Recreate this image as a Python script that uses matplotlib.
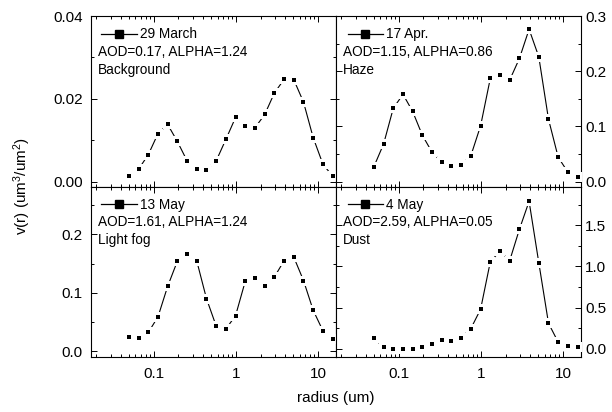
import numpy as np
import matplotlib
matplotlib.use("Agg")
import matplotlib.pyplot as plt
from matplotlib.lines import Line2D
from matplotlib.ticker import FixedLocator, FormatStrFormatter, LogLocator, NullFormatter

plt.rcParams['font.family'] = ['Liberation Sans', 'DejaVu Sans']
plt.rcParams['mathtext.default'] = 'regular'

radius = [0.05, 0.0656, 0.0861, 0.113, 0.148, 0.194, 0.255, 0.335, 0.439, 0.576, 0.756,
          0.992, 1.302, 1.708, 2.241, 2.940, 3.857, 5.061, 6.641, 8.713, 11.432, 15.0]

v_29march = [0.0014, 0.0030, 0.0065, 0.0116, 0.0138, 0.0097, 0.0050, 0.0030, 0.0029, 0.0050, 0.0102,
             0.0155, 0.0133, 0.0130, 0.0162, 0.0214, 0.0247, 0.0246, 0.0192, 0.0106, 0.0042, 0.0013]
v_17apr = [0.027, 0.068, 0.133, 0.158, 0.127, 0.084, 0.053, 0.035, 0.029, 0.030, 0.047,
           0.101, 0.187, 0.193, 0.184, 0.223, 0.276, 0.226, 0.113, 0.044, 0.017, 0.009]
v_13may = [0.025, 0.023, 0.032, 0.059, 0.111, 0.154, 0.166, 0.154, 0.090, 0.043, 0.038,
           0.061, 0.120, 0.125, 0.112, 0.127, 0.155, 0.161, 0.121, 0.070, 0.035, 0.020]
v_4may = [0.129, 0.016, 0.0, 0.0, 0.0, 0.016, 0.056, 0.105, 0.100, 0.133, 0.246,
          0.480, 1.056, 1.185, 1.070, 1.450, 1.790, 1.045, 0.310, 0.080, 0.028, 0.016]

dates = ["29 March", "17 Apr.", "13 May", "4 May"]
aod_text = ["AOD=0.17, ALPHA=1.24", "AOD=1.15, ALPHA=0.86",
            "AOD=1.61, ALPHA=1.24", "AOD=2.59, ALPHA=0.05"]
types = ["Background", "Haze", "Light fog", "Dust"]
series = [v_29march, v_17apr, v_13may, v_4may]

ylims = [(-0.0012, 0.04), (-0.009, 0.3), (-0.01, 0.282), (-0.1, 1.97)]
ymajor = [[0.0, 0.02, 0.04], [0.0, 0.1, 0.2, 0.3], [0.0, 0.1, 0.2], [0.0, 0.5, 1.0, 1.5]]
yminor = [[0.01, 0.03], [0.05, 0.15, 0.25], [0.05, 0.15, 0.25], [0.25, 0.75, 1.25, 1.75]]
yfmt = ['%.2f', '%.1f', '%.1f', '%.1f']

fig, axes = plt.subplots(2, 2, figsize=(6.12, 4.12), dpi=100, sharex=True)
fig.subplots_adjust(left=91/612, right=581/612, top=1-16/412, bottom=1-357/412,
                    wspace=0, hspace=0)

for i, ax in enumerate(axes.flat):
    y = series[i]
    ax.plot(radius, y, '-', color='black', lw=0.8, zorder=2)
    ax.plot(radius, y, 's', ms=7.0, mfc='white', mec='white', mew=0, zorder=3)
    ax.plot(radius, y, 's', ms=3.0, mfc='black', mec='black', mew=0, zorder=4)
    ax.set_xscale('log')
    ax.set_xlim(0.0173, 16.5)
    ax.set_ylim(*ylims[i])
    ax.yaxis.set_major_locator(FixedLocator(ymajor[i]))
    ax.yaxis.set_minor_locator(FixedLocator(yminor[i]))
    ax.yaxis.set_major_formatter(FormatStrFormatter(yfmt[i]))
    ax.xaxis.set_major_locator(FixedLocator([0.1, 1, 10]))
    ax.xaxis.set_major_formatter(FormatStrFormatter('%g'))
    ax.xaxis.set_minor_locator(LogLocator(base=10, subs=np.arange(2, 10)))
    ax.xaxis.set_minor_formatter(NullFormatter())
    ax.tick_params(which='both', direction='in', top=True, bottom=True, left=True, right=True,
                   width=0.7, labelsize=11, colors='black')
    ax.tick_params(which='major', length=4)
    ax.tick_params(which='minor', length=2)
    ax.tick_params(axis='x', pad=7)
    if i % 2 == 1:
        ax.tick_params(axis='y', labelleft=False, labelright=True, pad=3)
    else:
        ax.tick_params(axis='y', pad=6)
    if i < 2:
        ax.tick_params(axis='x', labelbottom=False)
    for sp in ax.spines.values():
        sp.set_linewidth(0.8)

    handle = Line2D([], [], color='black', lw=0.9, marker='s', ms=5.5)
    ax.legend([handle], [dates[i]], loc='upper left', frameon=False, fontsize=9.8,
              handlelength=2.6, handletextpad=0.25, borderaxespad=0.0,
              bbox_to_anchor=(0.02 if i % 2 == 0 else 0.025, 0.965))
    ax.text(0.028, 0.79, aod_text[i], transform=ax.transAxes, fontsize=9.8, va='center', ha='left')
    ax.text(0.028, 0.685, types[i], transform=ax.transAxes, fontsize=9.8, va='center', ha='left')

fig.text(336/612, 1-398/412, 'radius (um)', ha='center', va='center', fontsize=11)
fig.text(22/612, 1-186/412, 'v(r) (um$^3$/um$^2$)', ha='center', va='center',
         rotation=90, fontsize=11)

fig.savefig('out.png', dpi=100)
